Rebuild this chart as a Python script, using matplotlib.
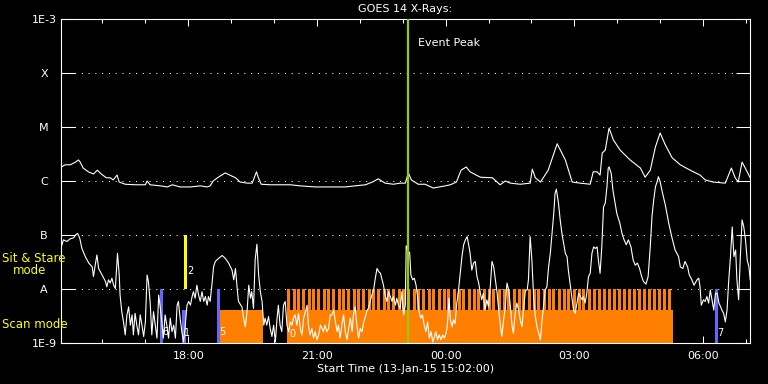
import numpy as np
import matplotlib.pyplot as plt
from matplotlib.ticker import NullLocator

# time axis in hours from 00:00 of 13-Jan-15 (24 = 00:00 of 14-Jan)
t_start, t_end = 15.033, 31.095

# GOES 14, 1-8 A channel: (hour, log10 flux)
long_channel = [
    (15.04, -5.74), (15.13, -5.70), (15.25, -5.70), (15.37, -5.65), (15.44, -5.61),
    (15.48, -5.65), (15.55, -5.76), (15.67, -5.83), (15.79, -5.87), (15.88, -5.80),
    (15.97, -5.87), (16.09, -5.94), (16.18, -5.94), (16.25, -5.98), (16.34, -5.89),
    (16.39, -6.02), (16.53, -6.06), (16.76, -6.07), (17.00, -6.07), (17.04, -6.00),
    (17.11, -6.07), (17.35, -6.09), (17.51, -6.11), (17.63, -6.07), (17.81, -6.11),
    (18.05, -6.11), (18.28, -6.09), (18.44, -6.11), (18.51, -6.09), (18.58, -6.00),
    (18.70, -5.93), (18.86, -5.85), (19.10, -5.94), (19.21, -6.02), (19.38, -6.04),
    (19.49, -6.04), (19.59, -5.83), (19.63, -5.93), (19.70, -6.06), (19.91, -6.07),
    (20.14, -6.07), (20.38, -6.07), (20.61, -6.09), (20.96, -6.11), (21.31, -6.11),
    (21.66, -6.11), (21.89, -6.09), (22.13, -6.07), (22.29, -6.02), (22.43, -5.96),
    (22.59, -6.04), (22.78, -6.06), (22.94, -6.04), (23.06, -6.04), (23.13, -5.85),
    (23.20, -5.98), (23.36, -6.06), (23.52, -6.06), (23.71, -6.13), (23.99, -6.09),
    (24.11, -6.07), (24.25, -6.02), (24.36, -5.80), (24.48, -5.74), (24.57, -5.83),
    (24.71, -5.89), (24.81, -5.93), (25.09, -5.94), (25.27, -6.07), (25.39, -6.00),
    (25.51, -6.04), (25.74, -6.06), (25.97, -6.04), (26.02, -5.78), (26.09, -5.94),
    (26.21, -6.02), (26.39, -5.80), (26.60, -5.31), (26.79, -5.61), (26.95, -6.02),
    (27.14, -6.04), (27.37, -6.06), (27.44, -5.83), (27.53, -5.83), (27.60, -5.89),
    (27.65, -5.48), (27.72, -5.43), (27.81, -5.02), (27.91, -5.24), (28.07, -5.43),
    (28.30, -5.61), (28.54, -5.76), (28.65, -5.93), (28.77, -5.80), (28.89, -5.37),
    (29.00, -5.11), (29.12, -5.33), (29.28, -5.57), (29.47, -5.70), (29.70, -5.80),
    (29.93, -5.89), (30.05, -5.98), (30.24, -6.02), (30.52, -6.04), (30.66, -5.76),
    (30.75, -5.94), (30.82, -6.02), (30.91, -5.65), (31.01, -5.80), (31.10, -5.94),
]

# GOES 14, 0.5-4 A channel: (hour, log10 flux)
short_channel = [
    (15.04, -7.22), (15.09, -7.09), (15.17, -7.12), (15.25, -7.07), (15.33, -7.05),
    (15.37, -7.00), (15.42, -6.97), (15.47, -7.06), (15.52, -7.25), (15.60, -7.40),
    (15.68, -7.52), (15.76, -7.59), (15.79, -7.77), (15.83, -7.56), (15.87, -7.37),
    (15.91, -7.62), (15.99, -7.74), (16.07, -7.86), (16.10, -7.96), (16.14, -7.83),
    (16.18, -7.89), (16.22, -7.80), (16.26, -7.93), (16.30, -7.99), (16.35, -7.34),
    (16.39, -7.74), (16.41, -8.11), (16.45, -8.42), (16.49, -8.61), (16.53, -8.85),
    (16.57, -8.48), (16.61, -8.33), (16.65, -8.67), (16.69, -8.48), (16.72, -8.85),
    (16.76, -8.45), (16.80, -8.67), (16.84, -8.85), (16.88, -8.48), (16.92, -8.67),
    (16.96, -8.88), (17.00, -8.61), (17.04, -7.74), (17.07, -7.86), (17.11, -8.23),
    (17.15, -8.85), (17.19, -8.42), (17.23, -8.67), (17.27, -8.91), (17.31, -8.11),
    (17.35, -8.36), (17.39, -8.67), (17.42, -8.91), (17.46, -8.48), (17.50, -8.67),
    (17.54, -8.91), (17.58, -8.54), (17.62, -8.79), (17.66, -8.67), (17.70, -8.91),
    (17.74, -8.30), (17.77, -8.23), (17.81, -8.54), (17.85, -8.79), (17.89, -8.98),
    (17.93, -8.67), (17.97, -8.30), (18.01, -8.23), (18.05, -8.30), (18.09, -8.14),
    (18.12, -8.05), (18.16, -8.17), (18.20, -7.93), (18.24, -8.11), (18.28, -8.23),
    (18.32, -8.05), (18.36, -8.23), (18.40, -8.14), (18.44, -8.30), (18.47, -8.14),
    (18.51, -8.23), (18.55, -7.93), (18.59, -7.59), (18.63, -7.49), (18.71, -7.43),
    (18.79, -7.38), (18.86, -7.43), (18.94, -7.52), (19.02, -7.65), (19.06, -7.83),
    (19.10, -7.62), (19.14, -7.99), (19.17, -8.23), (19.25, -8.33), (19.29, -8.54),
    (19.33, -8.70), (19.37, -8.42), (19.41, -7.93), (19.45, -8.17), (19.48, -8.05),
    (19.52, -8.36), (19.56, -7.45), (19.60, -7.17), (19.64, -7.74), (19.68, -8.05),
    (19.72, -8.23), (19.76, -8.67), (19.79, -8.54), (19.83, -8.67), (19.87, -8.51),
    (19.91, -8.73), (19.95, -8.88), (19.99, -8.67), (20.03, -8.98), (20.07, -8.54),
    (20.10, -8.30), (20.14, -8.67), (20.18, -8.79), (20.22, -8.30), (20.26, -8.23),
    (20.30, -8.67), (20.34, -8.79), (20.38, -8.61), (20.42, -8.67), (20.45, -8.54),
    (20.49, -8.48), (20.53, -8.67), (20.57, -8.45), (20.61, -8.73), (20.65, -8.85),
    (20.69, -8.54), (20.73, -8.42), (20.77, -8.30), (20.80, -8.67), (20.84, -8.85),
    (20.88, -8.73), (20.92, -8.91), (20.96, -8.79), (21.00, -8.94), (21.04, -8.85),
    (21.08, -8.67), (21.12, -8.73), (21.15, -8.79), (21.19, -8.67), (21.23, -8.79),
    (21.27, -8.73), (21.31, -8.48), (21.35, -8.48), (21.39, -8.39), (21.43, -8.61),
    (21.47, -8.79), (21.50, -8.67), (21.54, -8.91), (21.58, -8.67), (21.62, -8.48),
    (21.66, -8.79), (21.70, -8.94), (21.74, -8.73), (21.78, -8.54), (21.82, -8.79),
    (21.85, -8.48), (21.89, -8.33), (21.93, -8.67), (21.97, -8.91), (22.01, -8.73),
    (22.05, -8.79), (22.09, -8.61), (22.13, -8.51), (22.17, -8.39), (22.20, -8.36),
    (22.24, -8.23), (22.28, -8.11), (22.32, -8.02), (22.36, -7.80), (22.40, -7.62),
    (22.44, -7.68), (22.48, -7.71), (22.51, -7.80), (22.55, -7.93), (22.59, -8.11),
    (22.63, -8.23), (22.67, -8.05), (22.71, -8.14), (22.75, -8.23), (22.78, -8.14),
    (22.83, -8.30), (22.86, -8.17), (22.90, -8.30), (22.94, -8.36), (22.98, -8.05),
    (23.02, -8.48), (23.06, -8.30), (23.08, -7.20), (23.13, -7.31), (23.16, -7.32),
    (23.19, -7.74), (23.23, -7.83), (23.27, -7.80), (23.31, -7.93), (23.35, -8.17),
    (23.38, -8.42), (23.42, -8.54), (23.46, -8.48), (23.50, -8.67), (23.54, -8.79),
    (23.58, -8.61), (23.62, -8.91), (23.66, -8.79), (23.70, -8.98), (23.73, -8.91),
    (23.77, -8.79), (23.81, -8.94), (23.85, -8.85), (23.89, -8.94), (23.93, -8.85),
    (23.97, -8.91), (24.01, -8.82), (24.04, -8.67), (24.08, -8.17), (24.11, -8.57),
    (24.15, -8.70), (24.18, -8.57), (24.22, -8.64), (24.26, -8.26), (24.30, -8.02),
    (24.34, -7.71), (24.38, -7.40), (24.42, -7.18), (24.46, -7.09), (24.50, -7.03),
    (24.53, -7.15), (24.57, -7.34), (24.61, -7.65), (24.65, -7.52), (24.69, -7.49),
    (24.73, -7.77), (24.77, -7.89), (24.81, -8.08), (24.84, -8.20), (24.88, -8.08),
    (24.92, -8.39), (24.96, -8.20), (25.00, -8.33), (25.04, -7.96), (25.08, -7.49),
    (25.12, -7.59), (25.16, -7.83), (25.20, -8.08), (25.23, -8.33), (25.27, -8.64),
    (25.31, -8.88), (25.35, -8.57), (25.39, -8.33), (25.43, -7.89), (25.47, -8.02),
    (25.51, -8.33), (25.55, -8.70), (25.58, -8.82), (25.62, -8.45), (25.66, -8.26),
    (25.70, -8.39), (25.74, -8.57), (25.78, -8.70), (25.82, -8.33), (25.86, -8.02),
    (25.90, -8.02), (25.93, -7.83), (25.97, -7.03), (26.01, -7.46), (26.05, -8.14),
    (26.09, -8.51), (26.13, -8.70), (26.17, -8.82), (26.21, -8.94), (26.24, -8.64),
    (26.28, -8.33), (26.32, -8.02), (26.36, -7.96), (26.40, -7.59), (26.44, -7.34),
    (26.48, -6.97), (26.52, -6.60), (26.55, -6.23), (26.58, -6.15), (26.63, -6.41),
    (26.67, -6.72), (26.71, -6.97), (26.75, -7.15), (26.79, -7.34), (26.83, -7.40),
    (26.86, -7.65), (26.90, -7.89), (26.94, -8.14), (26.98, -8.39), (27.02, -8.45),
    (27.06, -8.26), (27.10, -8.08), (27.14, -8.14), (27.18, -8.20), (27.21, -8.14),
    (27.25, -8.26), (27.29, -8.08), (27.33, -7.77), (27.37, -7.71), (27.41, -7.34),
    (27.45, -7.22), (27.49, -7.25), (27.53, -7.22), (27.56, -7.46), (27.60, -7.71),
    (27.64, -7.22), (27.68, -6.48), (27.72, -6.41), (27.76, -6.11), (27.79, -5.76),
    (27.81, -5.74), (27.86, -5.86), (27.90, -6.17), (27.95, -6.41), (27.99, -6.60),
    (28.06, -6.78), (28.11, -6.97), (28.16, -7.09), (28.21, -7.18), (28.26, -7.09),
    (28.32, -7.22), (28.37, -7.46), (28.42, -7.56), (28.47, -7.52), (28.52, -7.62),
    (28.57, -7.77), (28.61, -7.86), (28.67, -7.91), (28.72, -7.77), (28.77, -7.22),
    (28.81, -6.66), (28.85, -6.35), (28.89, -6.11), (28.93, -6.01), (28.96, -5.92),
    (29.00, -6.01), (29.04, -6.17), (29.12, -6.44), (29.20, -6.78), (29.27, -7.03),
    (29.35, -7.28), (29.43, -7.40), (29.47, -7.59), (29.53, -7.62), (29.58, -7.49),
    (29.64, -7.59), (29.68, -7.74), (29.74, -7.83), (29.79, -7.93), (29.86, -7.83),
    (29.90, -7.80), (29.93, -7.96), (29.96, -8.30), (30.01, -8.20), (30.05, -8.23),
    (30.09, -8.14), (30.13, -8.26), (30.17, -8.02), (30.21, -8.20), (30.25, -8.39),
    (30.29, -8.08), (30.33, -8.08), (30.37, -8.26), (30.41, -8.33), (30.44, -8.39),
    (30.48, -8.45), (30.52, -8.61), (30.56, -8.39), (30.60, -7.83), (30.64, -7.40),
    (30.68, -6.85), (30.72, -7.40), (30.76, -7.28), (30.79, -7.83), (30.83, -8.20),
    (30.87, -7.40), (30.91, -6.72), (30.95, -6.85), (30.99, -7.09), (31.03, -7.46),
    (31.07, -7.59), (31.10, -7.83),
]

# IRIS observations
scan_blocks = [(18.72, 19.75), (20.31, 29.30)]   # continuous scan periods
scan_block_top = 4.1e-9
scan_times = [
    20.31, 20.43, 20.54, 20.66, 20.78, 20.89, 21.01, 21.13, 21.24, 21.36,
    21.48, 21.59, 21.71, 21.83, 21.94, 22.06, 22.18, 22.29, 22.41, 22.53,
    22.64, 22.76, 22.88, 22.99, 23.11, 23.23, 23.34, 23.46, 23.58, 23.69,
    23.81, 23.93, 24.04, 24.16, 24.28, 24.39, 24.51, 24.63, 24.74, 24.86,
    24.98, 25.09, 25.21, 25.33, 25.44, 25.56, 25.68, 25.79, 25.91, 26.03,
    26.14, 26.26, 26.38, 26.49, 26.61, 26.73, 26.84, 26.96, 27.08, 27.19,
    27.31, 27.43, 27.54, 27.66, 27.78, 27.89, 28.01, 28.13, 28.24, 28.36,
    28.48, 28.59, 28.71, 28.83, 28.94, 29.06, 29.18,
]
other_obs = [(17.38, 1e-8), (17.90, 4.1e-9), (18.71, 1e-8), (30.31, 1e-8)]
sit_stare = [(17.93, 1e-8, 1e-7)]
obs_labels = [(17.46, -8.80, '6'), (17.98, -8.81, '1'), (18.05, -7.67, '2'),
              (18.79, -8.80, '5'), (20.42, -8.83, '0'), (30.40, -8.81, '7')]
event_peak = 23.12

class_levels = [1e-9, 1e-8, 1e-7, 1e-6, 1e-5, 1e-4, 1e-3]
class_names = ['1E-9', 'A', 'B', 'C', 'M', 'X', '1E-3']
hour_ticks = [18, 21, 24, 27, 30]
hour_names = ['18:00', '21:00', '00:00', '03:00', '06:00']

orange = '#ff8000'
blue = '#6464ff'

W, H = 768, 384
fig = plt.figure(figsize=(W / 100, H / 100), dpi=100, facecolor='black')
ax = fig.add_axes([61 / W, 1 - 343 / H, (750 - 61) / W, (343 - 19) / H], facecolor='black')
ax.set_yscale('log')
ax.set_ylim(1e-9, 1e-3)
ax.set_xlim(t_start, t_end)

for lev in class_levels[1:-1]:
    ax.axhline(lev, color='white', lw=0.75, ls=(0, (1, 5.5)), zorder=1)

# observation bars (crisp edges like the original raster plot)
for a, b in scan_blocks:
    ax.bar(a, scan_block_top - 1e-9, width=b - a, bottom=1e-9, align='edge',
           color=orange, lw=0, antialiased=False, zorder=2)
ax.bar(scan_times, 1e-8 - 1e-9, width=0.07, bottom=1e-9, align='edge',
       color=orange, lw=0, antialiased=False, zorder=2)
for t, top in other_obs:
    ax.bar(t, top - 1e-9, width=0.075, bottom=1e-9, color=blue, lw=0,
           antialiased=False, zorder=2)
for t, lo, hi in sit_stare:
    ax.bar(t, hi - lo, width=0.065, bottom=lo, color='#ffff00', lw=0,
           antialiased=False, zorder=2)

lt, lf = np.array(long_channel).T
st, sf = np.array(short_channel).T
ax.plot(lt, 10 ** lf, color='white', lw=0.8, zorder=3)
ax.plot(st, 10 ** sf, color='white', lw=0.8, zorder=3)

for t, lf_, s in obs_labels:
    ax.text(t, 10 ** lf_, s, color='white', fontsize=7, ha='center', va='center', zorder=4)

ax.axvline(event_peak, color='#99cc00', lw=1.6, zorder=5)
ax.text(23.36, 10 ** -3.44, 'Event Peak', color='white', fontsize=8, va='center')

# axes styling
ax.set_yticks(class_levels, class_names)
ax.yaxis.set_minor_locator(NullLocator())
ax.tick_params(axis='y', which='major', direction='in', length=10, width=0.75,
               colors='white', left=True, right=True, pad=12.2, labelsize=8)
for lab in ax.get_yticklabels():
    lab.set_horizontalalignment('center')
ax.set_xticks(hour_ticks, hour_names)
ax.set_xticks(range(16, 32), minor=True)
ax.tick_params(axis='x', which='major', direction='in', length=5, width=0.75,
               colors='white', top=True, bottom=True, pad=6, labelsize=8)
ax.tick_params(axis='x', which='minor', direction='in', length=3, width=0.75,
               colors='white', top=True, bottom=True)
for sp in ax.spines.values():
    sp.set_color('white')
    sp.set_linewidth(0.8)

fig.text((61 + 750) / 2 / W, 1 - 9.5 / H, 'GOES 14 X-Rays:', color='white',
         fontsize=8, ha='center', va='center')
fig.text((61 + 750) / 2 / W, 1 - 369 / H, 'Start Time (13-Jan-15 15:02:00)', color='white',
         fontsize=8, ha='center', va='center')
fig.text(2 / W, 1 - 258 / H, 'Sit & Stare', color='#ffff00', fontsize=8.5, va='center')
fig.text(13 / W, 1 - 271 / H, 'mode', color='#ffff00', fontsize=8.5, va='center')
fig.text(2 / W, 1 - 324 / H, 'Scan mode', color='#ffff00', fontsize=8.5, va='center')

fig.savefig('out.png', dpi=100, facecolor='black')
